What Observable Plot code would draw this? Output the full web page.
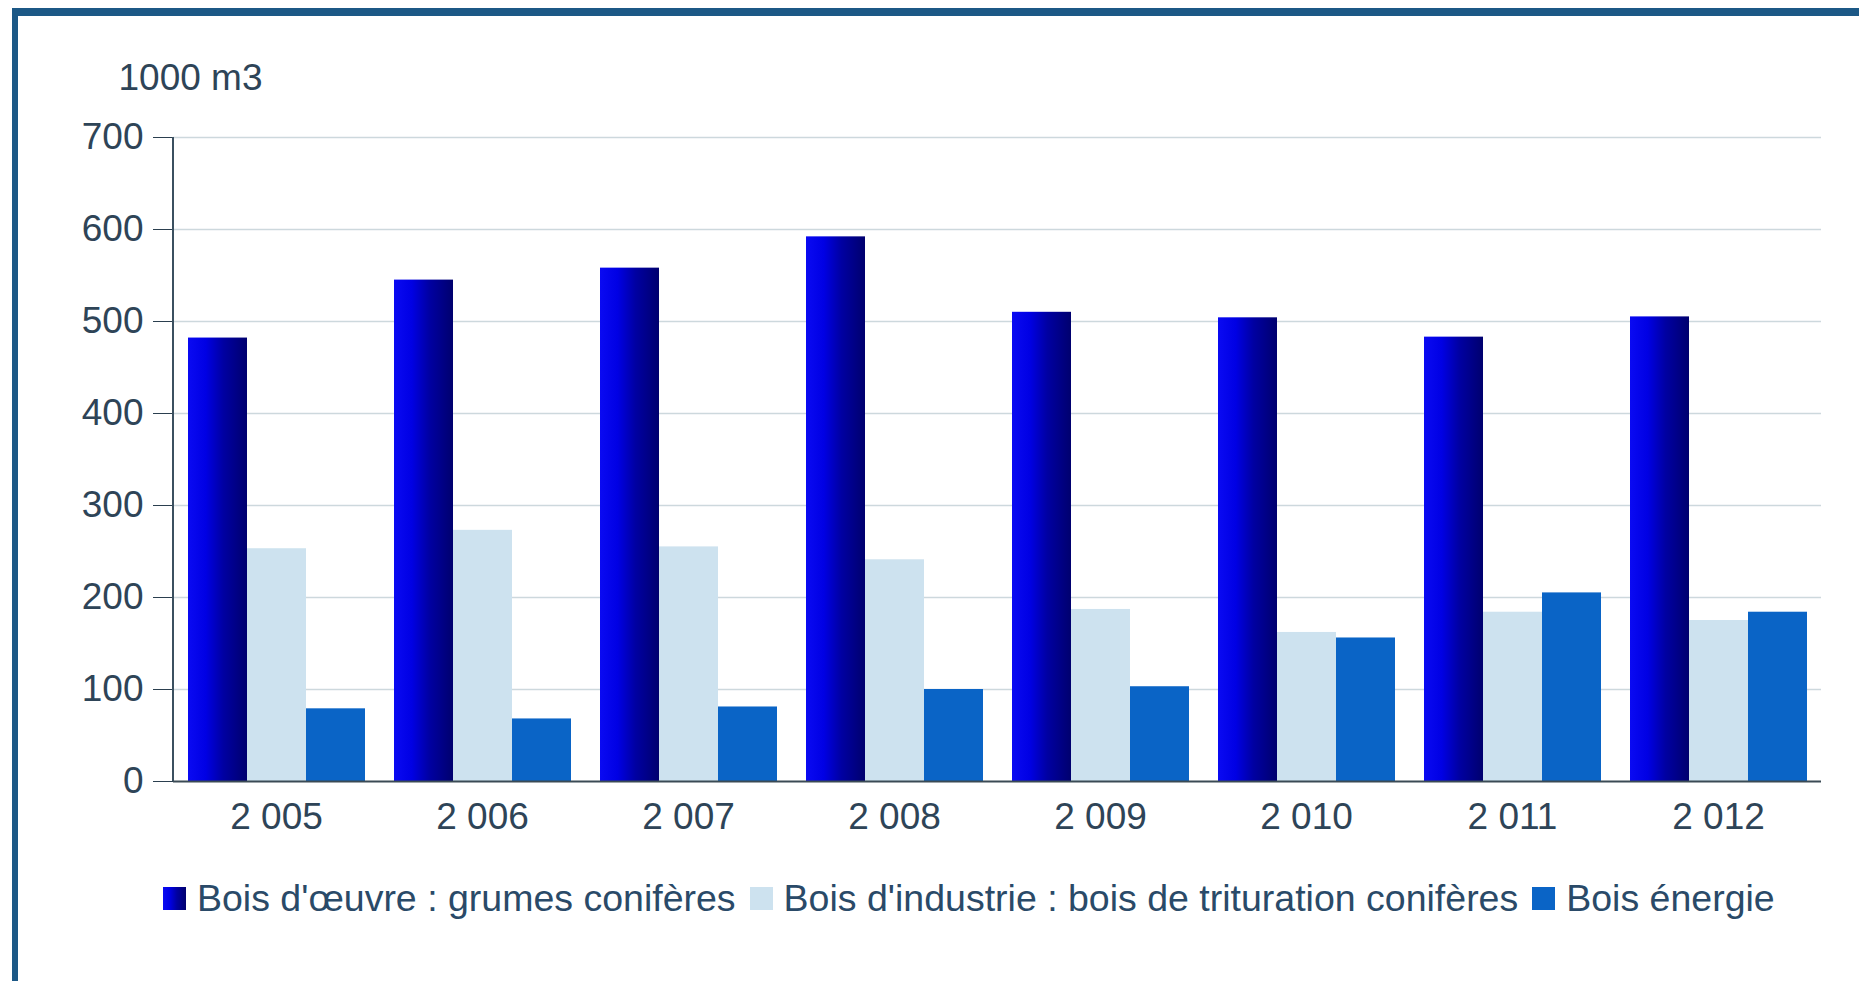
<!DOCTYPE html>
<html>
<head>
<meta charset="utf-8">
<script src="https://cdn.jsdelivr.net/npm/d3@7"></script>
<script src="https://cdn.jsdelivr.net/npm/@observablehq/plot@0.6"></script>
<style>
  body { margin: 0; background: #fff; font-family: "Liberation Sans", Arial, sans-serif; overflow: hidden; }
  #wrap { position: relative; width: 1859px; height: 981px; background: #fff; }
  #frame { position: absolute; left: 12px; top: 8px; right: 0; bottom: 0; border-top: 8px solid #1c5886; border-left: 6px solid #1c5886; }
  #chart { position: absolute; left: 0; top: 60px; }
  #legend { position: absolute; left: 163px; top: 878px; display: flex; align-items: center; font-size: 37.5px; color: #2a4a68; line-height: 40px; white-space: nowrap; }
  #legend .item { display: flex; align-items: center; margin-right: 14px; }
  #legend .sw { width: 23px; height: 23px; margin-right: 11px; }
</style>
</head>
<body>
<div id="wrap">
  <div id="frame"></div>
  <svg width="0" height="0" style="position:absolute">
    <defs>
      <linearGradient id="gDark" x1="0" x2="1" y1="0" y2="0">
        <stop offset="0" stop-color="#0a0af2"/>
        <stop offset="0.3" stop-color="#0000e4"/>
        <stop offset="0.6" stop-color="#0000a2"/>
        <stop offset="1" stop-color="#00006e"/>
      </linearGradient>
    </defs>
  </svg>
  <div id="chart"></div>
  <div id="legend"></div>
</div>
<script>
// ---- data ----
const years = ["2 005", "2 006", "2 007", "2 008", "2 009", "2 010", "2 011", "2 012"];
const series = [
  "Bois d'œuvre : grumes conifères",
  "Bois d'industrie : bois de trituration conifères",
  "Bois énergie"
];
const grumes = [482, 545, 558, 592, 510, 504, 483, 505];
const trituration = [253, 273, 255, 241, 187, 162, 184, 175];
const energie = [79, 68, 81, 100, 103, 156, 205, 184];
const yTicks = [0, 100, 200, 300, 400, 500, 600, 700];
const unitLabel = "1000 m3";
const colors = ["url(#gDark)", "#cde2ef", "#0a64c6"];

const valuesBySeries = [grumes, trituration, energie];
const table = years.flatMap((yr, i) =>
  series.map((s, j) => ({ year: yr, series: s, value: valuesBySeries[j][i] }))
);

const marginLeft = 173;
const plot = Plot.plot({
  width: 1859,
  height: 790,
  marginTop: 77,
  marginBottom: 69,
  marginLeft: marginLeft,
  marginRight: 38,
  style: { fontFamily: "'Liberation Sans', Arial, sans-serif", fontSize: "37px", background: "transparent", color: "#2e4457", overflow: "visible" },
  fx: { domain: years, padding: 0, label: null },
  x: { domain: series, paddingInner: 0, paddingOuter: 0.24, axis: null },
  y: { domain: [0, 700] },
  color: { domain: series, range: colors },
  marks: [
    Plot.gridY(yTicks.slice(1), { stroke: "#cdd8dd", strokeOpacity: 1, strokeWidth: 1.5 }),
    Plot.barY(table, { fx: "year", x: "series", y: "value", fill: "series" }),
    Plot.ruleY([0], { stroke: "#3b4b55", strokeWidth: 2 }),
    Plot.axisY(yTicks, {
      tickSize: 20, tickPadding: 10, fontSize: 37,
      stroke: "#2b3f4f", fill: "#2e4457",
      label: unitLabel, labelAnchor: "top", labelArrow: "none", labelOffset: 55
    }),
    Plot.axisFx({ anchor: "bottom", tickSize: 0, tickPadding: 21, fontSize: 37, fill: "#2e4457", label: null })
  ]
});

// vertical y-axis line, positioned from the y scale
const ys = plot.scale("y");
const ns = "http://www.w3.org/2000/svg";
const ln = document.createElementNS(ns, "line");
ln.setAttribute("x1", marginLeft); ln.setAttribute("x2", marginLeft);
ln.setAttribute("y1", ys.apply(700)); ln.setAttribute("y2", ys.apply(0));
ln.setAttribute("stroke", "#3b5060"); ln.setAttribute("stroke-width", 2);
plot.appendChild(ln);

document.getElementById("chart").appendChild(plot);

// legend
const legend = document.getElementById("legend");
series.forEach((s, j) => {
  const item = document.createElement("div");
  item.className = "item";
  const sw = document.createElementNS(ns, "svg");
  sw.setAttribute("class", "sw");
  sw.setAttribute("viewBox", "0 0 23 23");
  const r = document.createElementNS(ns, "rect");
  r.setAttribute("width", 23); r.setAttribute("height", 23);
  r.setAttribute("fill", colors[j]);
  sw.appendChild(r);
  const t = document.createElement("span");
  t.textContent = s;
  item.appendChild(sw); item.appendChild(t);
  legend.appendChild(item);
});
</script>
</body>
</html>
